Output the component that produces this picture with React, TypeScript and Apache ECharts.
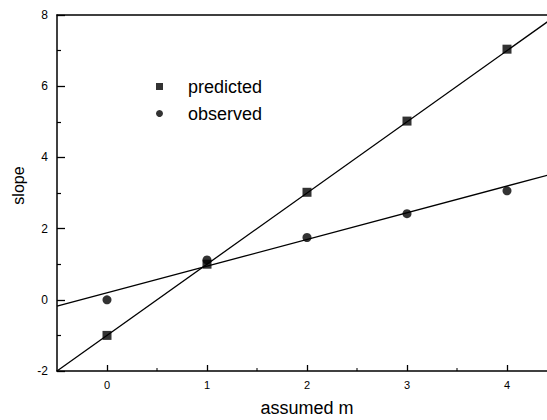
import React, { useEffect, useRef } from "react";
import * as echarts from "echarts";

const mValues = [0, 1, 2, 3, 4];
const predicted = [-1.0, 1.0, 3.02, 5.02, 7.04];
const observed = [0.0, 1.12, 1.75, 2.42, 3.06];
const fitX = [-0.5, 4.5];
const predictedFitY = [-2, 8];
const observedFitY = [-0.18, 3.57];
const minorTickX = [0.5, 1.5, 2.5, 3.5];

const FONT = "'Liberation Sans', Arial, Helvetica, sans-serif";
const INK = "#000";

export default function App() {
  const ref = useRef<HTMLDivElement>(null);
  useEffect(() => {
    if (!ref.current) return;
    const chart = echarts.init(ref.current, null, { renderer: "svg" });
    const gridBox = { left: 57, top: 15, right: -10, bottom: 49 };
    chart.setOption({
      animation: false,
      backgroundColor: "#fff",
      textStyle: { fontFamily: FONT, color: INK },
      grid: [
        { ...gridBox, containLabel: false, outerBoundsMode: "none" },
        { ...gridBox, containLabel: false, outerBoundsMode: "none" },
      ],
      legend: {
        orient: "vertical",
        left: 151,
        top: 72,
        itemWidth: 7,
        itemHeight: 7,
        itemGap: 8,
        data: [
          { name: "predicted", icon: "rect" },
          { name: "observed", icon: "circle" },
        ],
        textStyle: {
          fontFamily: FONT,
          fontSize: 18,
          lineHeight: 19,
          color: INK,
          padding: [0, 0, 0, 20],
        },
      },
      xAxis: [
        {
          gridIndex: 0,
          type: "value",
          position: "bottom",
          min: -0.5,
          max: 4.5,
          axisLine: { show: true, onZero: false, lineStyle: { color: INK, width: 1.5 } },
          axisTick: { show: true, inside: true, length: 6, lineStyle: { color: INK, width: 1.3 } },
          axisLabel: {
            showMinLabel: false,
            showMaxLabel: false,
            margin: 8,
            fontSize: 11,
            color: INK,
            fontFamily: FONT,
          },
          splitLine: { show: false },
          name: "assumed m",
          nameLocation: "middle",
          nameGap: 28,
          nameTextStyle: { fontSize: 18, lineHeight: 18, color: INK, fontFamily: FONT },
        },
        {
          gridIndex: 0,
          type: "value",
          position: "top",
          min: -0.5,
          max: 4.5,
          axisLine: { show: true, onZero: false, lineStyle: { color: INK, width: 1.5 } },
          axisTick: { show: false },
          axisLabel: { show: false },
          splitLine: { show: false },
        },
        {
          gridIndex: 1,
          type: "value",
          position: "bottom",
          min: -0.5,
          max: 4.5,
          axisLine: { show: false },
          axisTick: { show: false },
          axisLabel: { show: false },
          splitLine: { show: false },
        },
      ],
      yAxis: [
        {
          gridIndex: 0,
          type: "value",
          min: -2,
          max: 8,
          interval: 2,
          axisLine: { show: true, onZero: false, lineStyle: { color: INK, width: 1.5 } },
          axisTick: { show: true, inside: true, length: 8, lineStyle: { color: INK, width: 1.3 } },
          minorTick: { show: true, splitNumber: 2, length: 4, lineStyle: { color: INK, width: 1.2 } },
          axisLabel: { margin: 9, fontSize: 12, color: INK, fontFamily: FONT },
          splitLine: { show: false },
          name: "slope",
          nameLocation: "middle",
          nameGap: 30,
          nameTextStyle: { fontSize: 16, color: INK, fontFamily: FONT, padding: [0, 0, 0, 15] },
        },
        {
          gridIndex: 1,
          type: "value",
          min: -2,
          max: 8,
          show: false,
        },
      ],
      series: [
        {
          type: "line",
          name: "predictedFit",
          xAxisIndex: 0,
          yAxisIndex: 0,
          data: fitX.map((x, i) => [x, predictedFitY[i]]),
          symbol: "none",
          lineStyle: { color: INK, width: 1.3 },
          z: 2,
        },
        {
          type: "line",
          name: "observedFit",
          xAxisIndex: 0,
          yAxisIndex: 0,
          data: fitX.map((x, i) => [x, observedFitY[i]]),
          symbol: "none",
          lineStyle: { color: INK, width: 1.3 },
          z: 2,
        },
        {
          type: "scatter",
          name: "predicted",
          xAxisIndex: 0,
          yAxisIndex: 0,
          symbol: "rect",
          symbolSize: 9,
          itemStyle: { color: INK },
          data: mValues.map((m, i) => [m, predicted[i]]),
          z: 3,
        },
        {
          type: "scatter",
          name: "observed",
          xAxisIndex: 0,
          yAxisIndex: 0,
          symbol: "circle",
          symbolSize: 9,
          itemStyle: { color: INK },
          data: mValues.map((m, i) => [m, observed[i]]),
          z: 3,
        },
        {
          type: "scatter",
          name: "minorTicks",
          xAxisIndex: 2,
          yAxisIndex: 1,
          symbol: "rect",
          symbolSize: [1.3, 3],
          symbolOffset: [0, -1.5],
          itemStyle: { color: INK },
          data: minorTickX.map((x) => [x, -2]),
          silent: true,
          z: 1,
        },
      ],
    });
    return () => chart.dispose();
  }, []);
  return (
    <div
      ref={ref}
      style={{ position: "absolute", left: 0, top: 0, width: 547, height: 420 }}
    />
  );
}
